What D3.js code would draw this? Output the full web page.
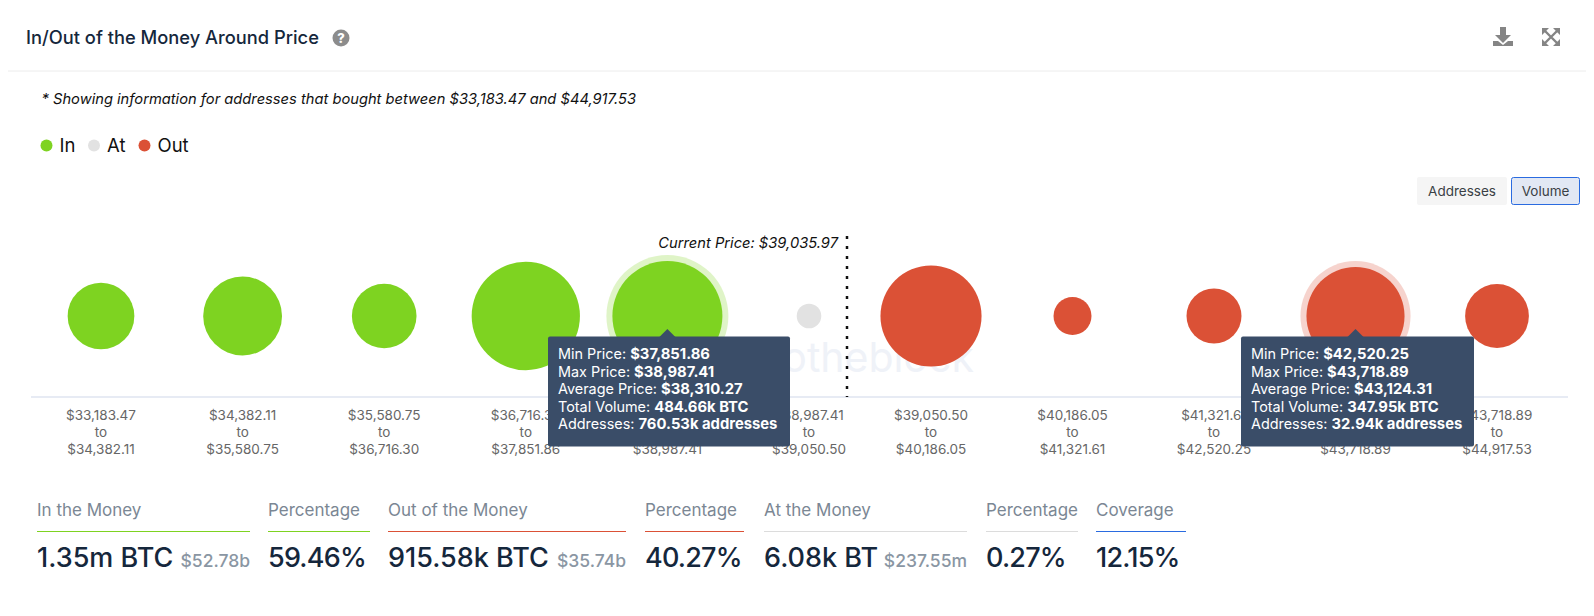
<!DOCTYPE html>
<html>
<head>
<meta charset="utf-8">
<script src="https://cdn.jsdelivr.net/npm/d3@7"></script>
<style>
  html, body { margin: 0; padding: 0; background: #fff; }
  svg { display: block; font-family: Inter, "Noto Sans", sans-serif; }
</style>
</head>
<body>
<div id="chart"></div>
<script>
// buckets, left of the current price then right of it
const minPrices = ["$33,183.47", "$34,382.11", "$35,580.75", "$36,716.30", "$37,851.86", "$38,987.41",
                   "$39,050.50", "$40,186.05", "$41,321.61", "$42,520.25", "$43,718.89"];
const maxPrices = ["$34,382.11", "$35,580.75", "$36,716.30", "$37,851.86", "$38,987.41", "$39,050.50",
                   "$40,186.05", "$41,321.61", "$42,520.25", "$43,718.89", "$44,917.53"];
const volumes = [114, 185, 104, 463, 484.66, 6.08, 380, 22, 65, 347.95, 100]; // k BTC
const states = ["In", "In", "In", "In", "In", "At", "Out", "Out", "Out", "Out", "Out"];

const legendItems = ["In", "At", "Out"];
const colors = { In: "#7ed321", At: "#e2e2e2", Out: "#db5136" };

// the two hovered bubbles
const tipBuckets = [4, 9];
const tipAverages = ["$38,310.27", "$43,124.31"];
const tipVolumes = ["484.66k BTC", "347.95k BTC"];
const tipAddresses = ["760.53k addresses", "32.94k addresses"];

const statTitles = ["In the Money", "Percentage", "Out of the Money", "Percentage", "At the Money", "Percentage", "Coverage"];
const statValues = ["1.35m BTC", "59.46%", "915.58k BTC", "40.27%", "6.08k BT", "0.27%", "12.15%"];
const statSubs = ["$52.78b", "", "$35.74b", "", "$237.55m", "", ""];
const statColors = ["#7ed321", "#7ed321", "#db5136", "#db5136", "#dcdcdc", "#dcdcdc", "#2a6be0"];
const statLefts = [37, 268, 388, 645, 764, 986, 1096];
const statRights = [250, 370, 626, 744, 967, 1078, 1186];

const w = 1594;
const h = 616;
const centerY = 316;
const axisY = 397;
const leftCount = 6;

const svg = d3.select("#chart").append("svg")
  .attr("width", w)
  .attr("height", h);

// x is two point scales, there is a gap change at the current price
const idx = d3.range(volumes.length);
const xLeft = d3.scalePoint().domain(idx.slice(0, leftCount)).range([101, 809]);
const xRight = d3.scalePoint().domain(idx.slice(leftCount)).range([931, 1497]);
const x = i => i < leftCount ? xLeft(i) : xRight(i);

const r = d3.scalePow().exponent(0.35).domain([6.08, 484.66]).range([12.3, 55]);

// header
svg.append("text")
  .attr("x", 26).attr("y", 44)
  .attr("font-size", 18.3).attr("font-weight", 500).attr("fill", "#15273c")
  .text("In/Out of the Money Around Price");

svg.append("circle").attr("cx", 341).attr("cy", 38).attr("r", 8.5).attr("fill", "#8c8c8c");
svg.append("text")
  .attr("x", 341).attr("y", 43)
  .attr("text-anchor", "middle").attr("font-size", 13).attr("font-weight", 800).attr("fill", "#fff")
  .text("?");

svg.append("line")
  .attr("x1", 8).attr("x2", 1586).attr("y1", 71).attr("y2", 71)
  .attr("stroke", "#ececec");

// download + expand icons
svg.append("path")
  .attr("fill", "#858585")
  .attr("d", "M1500,27h6v8h5l-8,8l-8,-8h5z M1493,41h5l5,4l5,-4h5v5h-20z");
svg.append("path")
  .attr("fill", "none").attr("stroke", "#858585").attr("stroke-width", 2.4)
  .attr("d", "M1544,30L1558,44M1558,30L1544,44");
svg.append("path")
  .attr("fill", "#858585")
  .attr("d", "M1542,28h7l-7,7z M1560,28v7l-7,-7z M1542,46v-7l7,7z M1560,46h-7l7,-7z");

svg.append("text")
  .attr("x", 41.5).attr("y", 103.5)
  .attr("font-size", 14.7).attr("font-style", "italic").attr("fill", "#111")
  .text("* Showing information for addresses that bought between $33,183.47 and $44,917.53");

// legend
const legendDotX = [46.5, 94, 144.5];
const legend = svg.selectAll("g.legend").data(legendItems).enter().append("g").attr("class", "legend");
legend.append("circle")
  .attr("cx", (d, i) => legendDotX[i]).attr("cy", 145.5).attr("r", 6)
  .attr("fill", d => colors[d]);
legend.append("text")
  .attr("x", (d, i) => legendDotX[i] + 13).attr("y", 152)
  .attr("font-size", 18.5).attr("fill", "#111")
  .text(d => d);

// addresses / volume toggle
svg.append("rect")
  .attr("x", 1417).attr("y", 177).attr("width", 90).attr("height", 28).attr("rx", 2)
  .attr("fill", "#f5f5f5");
svg.append("text")
  .attr("x", 1462).attr("y", 196).attr("text-anchor", "middle")
  .attr("font-size", 13.5).attr("fill", "#3a3f45")
  .text("Addresses");
svg.append("rect")
  .attr("x", 1511.5).attr("y", 177.5).attr("width", 68).attr("height", 27).attr("rx", 2)
  .attr("fill", "#e2e8f4").attr("stroke", "#2a6be0");
svg.append("text")
  .attr("x", 1545.5).attr("y", 196).attr("text-anchor", "middle")
  .attr("font-size", 13.5).attr("fill", "#3a3f45")
  .text("Volume");

// watermark
svg.append("text")
  .attr("x", 974).attr("y", 372).attr("text-anchor", "end")
  .attr("font-size", 41).attr("font-weight", 400).attr("fill", "#eff2f8")
  .text("intotheblock");

// axis line
svg.append("line")
  .attr("x1", 31).attr("x2", 1568).attr("y1", axisY).attr("y2", axisY)
  .attr("stroke", "#dfe4f0").attr("stroke-width", 1.5);

// current price
svg.append("line")
  .attr("x1", 847).attr("x2", 847).attr("y1", 236).attr("y2", axisY)
  .attr("stroke", "#111").attr("stroke-width", 2.5).attr("stroke-dasharray", "3 7");
svg.append("text")
  .attr("x", 838).attr("y", 248).attr("text-anchor", "end")
  .attr("font-size", 14.7).attr("font-style", "italic").attr("fill", "#111")
  .text("Current Price: $39,035.97");

// halos on hovered bubbles
svg.selectAll("circle.halo").data(tipBuckets).enter().append("circle")
  .attr("class", "halo")
  .attr("cx", d => x(d)).attr("cy", centerY)
  .attr("r", d => r(volumes[d]) + 6)
  .attr("fill", d => colors[states[d]]).attr("opacity", 0.25);

svg.selectAll("circle.bubble").data(idx).enter().append("circle")
  .attr("class", "bubble")
  .attr("cx", d => x(d)).attr("cy", centerY)
  .attr("r", d => r(volumes[d]))
  .attr("fill", d => colors[states[d]]);

// bucket labels
const labels = svg.selectAll("text.bucket").data(idx).enter().append("text")
  .attr("class", "bucket")
  .attr("text-anchor", "middle").attr("font-size", 13.5).attr("fill", "#666");
labels.append("tspan").attr("x", d => x(d)).attr("y", 420).text(d => minPrices[d]);
labels.append("tspan").attr("x", d => x(d)).attr("y", 437).text("to");
labels.append("tspan").attr("x", d => x(d)).attr("y", 454).text(d => maxPrices[d]);

// tooltips
const tipLeft = [548, 1241];
const tipRight = [790, 1474];
const tips = svg.selectAll("g.tip").data(tipBuckets).enter().append("g").attr("class", "tip");
tips.append("rect")
  .attr("x", (d, i) => tipLeft[i]).attr("y", 336.5)
  .attr("width", (d, i) => tipRight[i] - tipLeft[i]).attr("height", 110).attr("rx", 2)
  .attr("fill", "#3a4d68");
tips.append("path")
  .attr("fill", "#3a4d68")
  .attr("d", d => d3.line()([[x(d) - 8, 337], [x(d), 329], [x(d) + 8, 337]]));
tips.each(function(d, i) {
  const rows = [
    ["Min Price: ", minPrices[d]],
    ["Max Price: ", maxPrices[d]],
    ["Average Price: ", tipAverages[i]],
    ["Total Volume: ", tipVolumes[i]],
    ["Addresses: ", tipAddresses[i]]
  ];
  const t = d3.select(this).selectAll("text").data(rows).enter().append("text")
    .attr("x", tipLeft[i] + 10).attr("y", (row, j) => 359 + j * 17.6)
    .attr("fill", "#fff");
  t.append("tspan").attr("font-size", 14.4).text(row => row[0]);
  t.append("tspan").attr("font-size", 14.8).attr("font-weight", 700).text(row => row[1]);
});

// stats row
const stats = svg.selectAll("g.stat").data(statTitles).enter().append("g").attr("class", "stat");
stats.append("text")
  .attr("x", (d, i) => statLefts[i]).attr("y", 516)
  .attr("font-size", 17).attr("fill", "#7b8794")
  .text(d => d);
stats.append("line")
  .attr("x1", (d, i) => statLefts[i]).attr("x2", (d, i) => statRights[i])
  .attr("y1", 531.5).attr("y2", 531.5)
  .attr("stroke", (d, i) => statColors[i]).attr("stroke-width", 1.2);
stats.append("text")
  .attr("x", (d, i) => statLefts[i]).attr("y", 567)
  .attr("font-size", 27).attr("font-weight", 500).attr("fill", "#15273c")
  .attr("letter-spacing", (d, i) => statValues[i].endsWith("%") ? -0.8 : 0)
  .text((d, i) => statValues[i]);
stats.append("text")
  .attr("x", (d, i) => statRights[i]).attr("y", 567).attr("text-anchor", "end")
  .attr("font-size", 17.5).attr("font-weight", 500).attr("fill", "#8a96a3")
  .text((d, i) => statSubs[i]);
</script>
</body>
</html>
